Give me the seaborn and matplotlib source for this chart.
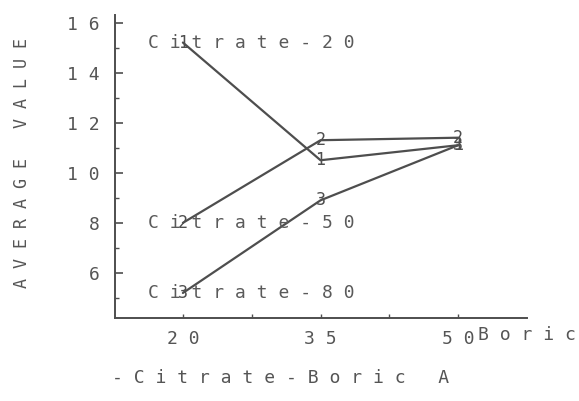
import numpy as np
import pandas as pd
import seaborn as sns
import matplotlib
matplotlib.use("Agg")
import matplotlib.pyplot as plt
from matplotlib.ticker import FixedLocator

# ---- data ----
boric = [20, 35, 50]
citrate_20 = [15.2, 10.5, 11.1]
citrate_50 = [8.0, 11.3, 11.4]
citrate_80 = [5.2, 8.9, 11.1]
series_names = ["Citrate-20", "Citrate-50", "Citrate-80"]
series_marks = ["1", "2", "3"]
y_ticks = [6, 8, 10, 12, 14, 16]
x_ticks = [20, 35, 50]
x_label = "-Citrate-Boric"
x_label_tail = "A"
x_extra = "Boric"
y_label = "AVERAGE VALUE"

def spaced(s):
    return " ".join(s)

sns.set_theme(style="white")
plt.rcParams["font.family"] = ["DejaVu Sans Mono", "DejaVu Sans"]
GRAY = "#4e4e4e"
TXT = "#555555"
FS = 13

rows = []
for name, vals in zip(series_names, [citrate_20, citrate_50, citrate_80]):
    for b, v in zip(boric, vals):
        rows.append({"Boric": b, "value": v, "series": name})
df = pd.DataFrame(rows)

fig = plt.figure(figsize=(5.79, 4.01), dpi=100)
ax = fig.add_axes([115 / 579, 1 - 318 / 401, 412 / 579, 303 / 401])

sns.lineplot(data=df, x="Boric", y="value", hue="series",
             palette=[GRAY] * 3, legend=False, linewidth=1.6,
             errorbar=None, ax=ax)

ax.set_xlim(12.6, 57.5)
ax.set_ylim(4.2, 16.3)

# digit markers at each point and series labels
for name, mark, vals in zip(series_names, series_marks, [citrate_20, citrate_50, citrate_80]):
    for b, v in zip(boric, vals):
        ax.text(b, v, mark, ha="center", va="center", fontsize=FS - 1, color=GRAY)
    ax.annotate(spaced(name), xy=(boric[0], vals[0]), xytext=(-35, 0),
                textcoords="offset pixels", ha="left", va="center",
                fontsize=FS, color="#5a5a5a")

# spines
for s in ["top", "right"]:
    ax.spines[s].set_visible(False)
for s in ["left", "bottom"]:
    ax.spines[s].set_color(GRAY)
    ax.spines[s].set_linewidth(1.4)

# ticks
ax.yaxis.set_major_locator(FixedLocator(y_ticks))
ax.set_yticklabels([spaced(str(v)) for v in y_ticks])
ax.yaxis.set_minor_locator(FixedLocator([5, 7, 9, 11, 13, 15]))
ax.xaxis.set_major_locator(FixedLocator(x_ticks))
ax.set_xticklabels([spaced(str(v)) for v in x_ticks])
ax.xaxis.set_minor_locator(FixedLocator([27.5, 42.5]))
ax.tick_params(axis="y", which="major", direction="in", length=6, width=1.2,
               color=GRAY, labelsize=FS, labelcolor=TXT, pad=11, left=True)
ax.tick_params(axis="y", which="minor", direction="in", length=3, width=1.0,
               color=GRAY, left=True)
ax.tick_params(axis="x", which="major", direction="in", length=3, width=1.0,
               color=GRAY, labelsize=FS, labelcolor=TXT, pad=9, bottom=True)
ax.tick_params(axis="x", which="minor", direction="in", length=3, width=1.0,
               color=GRAY, bottom=True)

ax.annotate(spaced(x_extra), xy=(50, 4.2), xytext=(20, -17),
            textcoords="offset pixels", ha="left", va="center",
            fontsize=FS, color=TXT, annotation_clip=False)

ax.set_xlabel(spaced(x_label) + "   " + x_label_tail, fontsize=FS, color=TXT)
ax.xaxis.set_label_coords(-0.007, -0.198)
ax.xaxis.label.set_ha("left")
ax.xaxis.label.set_va("center")

ax.set_ylabel(spaced("AVERAGE") + "   " + spaced("VALUE"), fontsize=12, color=TXT)
ax.yaxis.set_label_coords(-0.226, 0.51)
ax.yaxis.label.set_va("center")

fig.savefig("out.png", dpi=100, facecolor="white")
